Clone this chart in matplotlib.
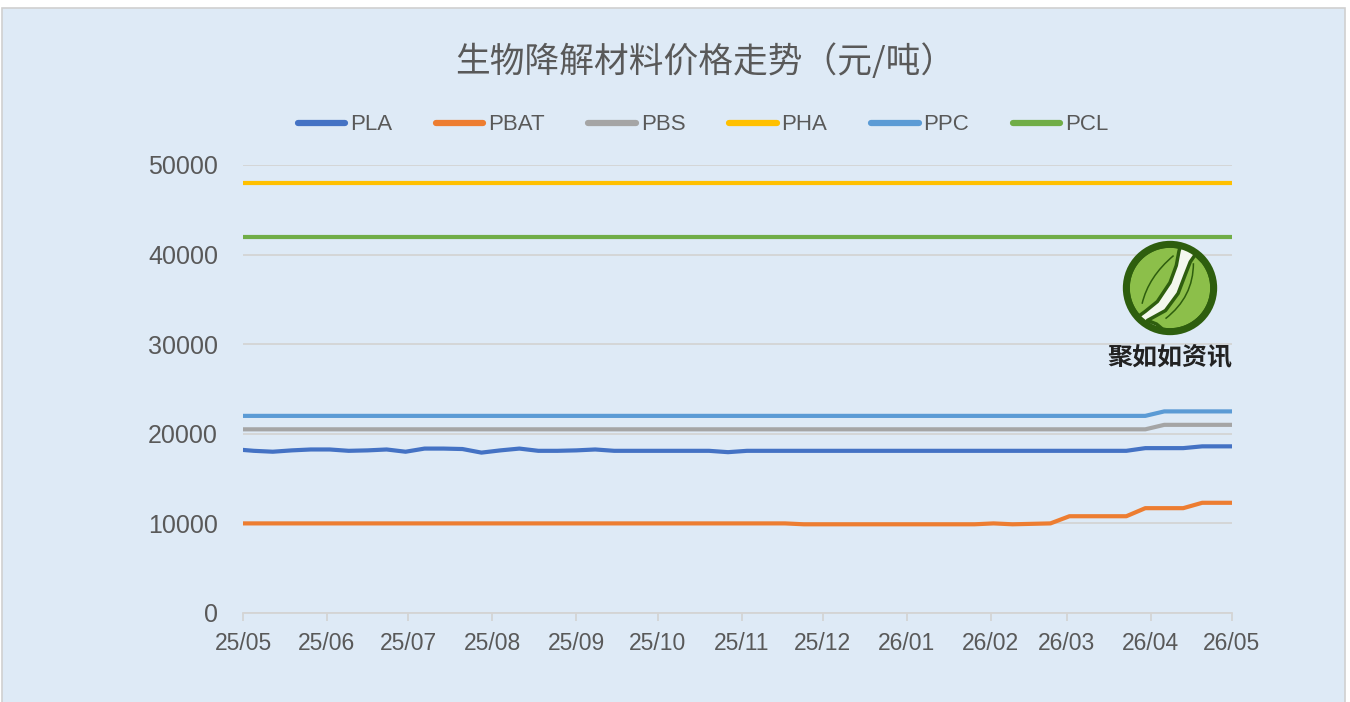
import matplotlib
matplotlib.use("Agg")
import matplotlib.pyplot as plt
from matplotlib.patches import Rectangle, Circle, PathPatch
from matplotlib.path import Path
import pandas as pd
import numpy as np

# ---------------- data ----------------
title = "生物降解材料价格走势（元/吨）"
series_names = ["PLA", "PBAT", "PBS", "PHA", "PPC", "PCL"]
dates = (
    [pd.Timestamp("2025-05-01")]
    + list(pd.date_range("2025-05-05", periods=52, freq="7D"))
    + [pd.Timestamp("2026-05-01")]
)
tick_labels = ["25/05", "25/06", "25/07", "25/08", "25/09", "25/10", "25/11",
               "25/12", "26/01", "26/02", "26/03", "26/04", "26/05"]

PLA = [18200, 18100, 18000, 18150, 18250, 18250, 18100, 18150, 18250, 18000,
       18350, 18350, 18300, 17900, 18150, 18350, 18100, 18100, 18150, 18250,
       18100, 18100, 18100, 18100, 18100, 18100, 17950, 18100, 18100, 18100,
       18100, 18100, 18100, 18100, 18100, 18100, 18100, 18100, 18100, 18100,
       18100, 18100, 18100, 18100, 18100, 18100, 18100, 18100, 18400, 18400,
       18400, 18600, 18600, 18600]
PBAT = [10000, 10000, 10000, 10000, 10000, 10000, 10000, 10000, 10000, 10000,
        10000, 10000, 10000, 10000, 10000, 10000, 10000, 10000, 10000, 10000,
        10000, 10000, 10000, 10000, 10000, 10000, 10000, 10000, 10000, 10000,
        9900, 9900, 9900, 9900, 9900, 9900, 9900, 9900, 9900, 9900,
        10000, 9900, 9950, 10000, 10800, 10800, 10800, 10800, 11700, 11700,
        11700, 12300, 12300, 12300]
PBS = [20500, 20500, 20500, 20500, 20500, 20500, 20500, 20500, 20500, 20500,
       20500, 20500, 20500, 20500, 20500, 20500, 20500, 20500, 20500, 20500,
       20500, 20500, 20500, 20500, 20500, 20500, 20500, 20500, 20500, 20500,
       20500, 20500, 20500, 20500, 20500, 20500, 20500, 20500, 20500, 20500,
       20500, 20500, 20500, 20500, 20500, 20500, 20500, 20500, 20500, 21000,
       21000, 21000, 21000, 21000]
PHA = [48000, 48000, 48000, 48000, 48000, 48000, 48000, 48000, 48000, 48000,
       48000, 48000, 48000, 48000, 48000, 48000, 48000, 48000, 48000, 48000,
       48000, 48000, 48000, 48000, 48000, 48000, 48000, 48000, 48000, 48000,
       48000, 48000, 48000, 48000, 48000, 48000, 48000, 48000, 48000, 48000,
       48000, 48000, 48000, 48000, 48000, 48000, 48000, 48000, 48000, 48000,
       48000, 48000, 48000, 48000]
PPC = [22000, 22000, 22000, 22000, 22000, 22000, 22000, 22000, 22000, 22000,
       22000, 22000, 22000, 22000, 22000, 22000, 22000, 22000, 22000, 22000,
       22000, 22000, 22000, 22000, 22000, 22000, 22000, 22000, 22000, 22000,
       22000, 22000, 22000, 22000, 22000, 22000, 22000, 22000, 22000, 22000,
       22000, 22000, 22000, 22000, 22000, 22000, 22000, 22000, 22000, 22500,
       22500, 22500, 22500, 22500]
PCL = [42000, 42000, 42000, 42000, 42000, 42000, 42000, 42000, 42000, 42000,
       42000, 42000, 42000, 42000, 42000, 42000, 42000, 42000, 42000, 42000,
       42000, 42000, 42000, 42000, 42000, 42000, 42000, 42000, 42000, 42000,
       42000, 42000, 42000, 42000, 42000, 42000, 42000, 42000, 42000, 42000,
       42000, 42000, 42000, 42000, 42000, 42000, 42000, 42000, 42000, 42000,
       42000, 42000, 42000, 42000]
series_values = [PLA, PBAT, PBS, PHA, PPC, PCL]
colors = ["#4472C4", "#ED7D31", "#A5A5A5", "#FFC000", "#5B9BD5", "#70AD47"]
y_ticks = [0, 10000, 20000, 30000, 40000, 50000]
logo_text = "聚如如资讯"

# ---------------- style ----------------
BG = "#DEEAF6"
TXT = "#595959"
GRID = "#D4D4D4"
latin = ["Liberation Sans Narrow", "Liberation Sans", "DejaVu Sans"]
cjk = ["Noto Sans CJK SC", "DejaVu Sans"]
plt.rcParams["font.family"] = latin

W, H = 1350, 702
fig = plt.figure(figsize=(W / 100, H / 100), dpi=100, facecolor="white")

# chart area background with border
bg = Rectangle((2 / W, -0.01), 1343 / W, (H - 8) / H + 0.01,
               transform=fig.transFigure, facecolor=BG,
               edgecolor="#D0D0D0", linewidth=1.2, zorder=-10)
fig.patches.append(bg)

x0, x1, y0, y1 = 243, 1232, 613, 165
ax = fig.add_axes([x0 / W, 1 - y0 / H, (x1 - x0) / W, (y0 - y1) / H])
ax.set_facecolor("none")
ax.set_zorder(2)

for name, vals, c in zip(series_names, series_values, colors):
    ax.plot(dates, vals, color=c, lw=3.0, label=name, solid_joinstyle="round",
            zorder=3)

ax.set_ylim(0, 50000)
ax.set_xlim(pd.Timestamp("2025-05-01"), pd.Timestamp("2026-05-01"))
ax.set_yticks(y_ticks)
ax.set_yticklabels([str(v) for v in y_ticks])
month_ticks = list(pd.date_range("2025-05-01", periods=13, freq="MS"))
ax.set_xticks(month_ticks)
ax.set_xticklabels(tick_labels)

ax.grid(axis="y", color=GRID, lw=1.3, zorder=1)
ax.set_axisbelow(True)
for s in ["top", "right", "left"]:
    ax.spines[s].set_visible(False)
ax.spines["bottom"].set_color(GRID)
ax.spines["bottom"].set_linewidth(1.3)
ax.tick_params(axis="y", length=0, pad=18, labelsize=18, labelcolor=TXT)
ax.tick_params(axis="x", length=6, width=1.3, color=GRID, pad=8,
               labelsize=16.5, labelcolor=TXT)

# title
fig.text(705 / W, 1 - 62 / H, title, ha="center", va="center",
         fontsize=25, color=TXT, family=cjk)

# legend
handles, labels = ax.get_legend_handles_labels()
leg = fig.legend(handles, labels, loc="center", ncol=6,
                 bbox_to_anchor=(703 / W, 1 - 125 / H), frameon=False,
                 fontsize=16, handlelength=2.15, handletextpad=0.22,
                 columnspacing=1.95, labelcolor=TXT)
for lh in leg.get_lines():
    lh.set_linewidth(4.5)
    lh.set_solid_capstyle("round")

# ---------------- logo ----------------
DK = "#2E5E0E"
LG = "#8CBF4A"
lax = fig.add_axes([1120 / W, 1 - 338 / H, 100 / W, 100 / H])
lax.set_zorder(3)
lax.set_xlim(-1.11, 1.11)
lax.set_ylim(-1.11, 1.11)
lax.set_aspect("equal")
lax.axis("off")
lax.add_patch(Circle((0, 0), 1.0, facecolor="#F4F8EE", edgecolor="none"))


def arc(r, a0, a1, n=30):
    t = np.radians(np.linspace(a0, a1, n))
    return list(zip(r * np.cos(t), r * np.sin(t)))


# left leaf
left_pts = arc(0.93, 76, 222) + [(-0.55, -0.52), (-0.28, -0.3),
                                  (0.0, 0.12), (0.14, 0.5), (0.2, 0.82)]
lax.add_patch(plt.Polygon(left_pts, closed=True, facecolor=LG,
                          edgecolor=DK, lw=2.5, joinstyle="round"))
# right leaf
right_pts = [(0.56, 0.74)] + arc(0.93, 38, -100) + [
    (-0.3, -0.8), (-0.5, -0.72), (-0.1, -0.5), (0.18, -0.12),
    (0.34, 0.3), (0.45, 0.58)]
lax.add_patch(plt.Polygon(right_pts, closed=True, facecolor=LG,
                          edgecolor=DK, lw=2.5, joinstyle="round"))
# midribs
rib1 = Path([(-0.62, -0.35), (-0.48, 0.25), (0.08, 0.72)],
            [Path.MOVETO, Path.CURVE3, Path.CURVE3])
rib2 = Path([(-0.1, -0.68), (0.52, -0.2), (0.52, 0.55)],
            [Path.MOVETO, Path.CURVE3, Path.CURVE3])
for p in (rib1, rib2):
    lax.add_patch(PathPatch(p, facecolor="none", edgecolor=DK, lw=1.1))
lax.add_patch(Circle((0, 0), 0.97, facecolor="none", edgecolor=DK, lw=5))

fig.text(1170 / W, 1 - 357 / H, logo_text, ha="center", va="center",
         fontsize=18, color="#222222", family=cjk, fontweight="bold",
         zorder=5)

fig.savefig("out.png", dpi=100, facecolor="white")
